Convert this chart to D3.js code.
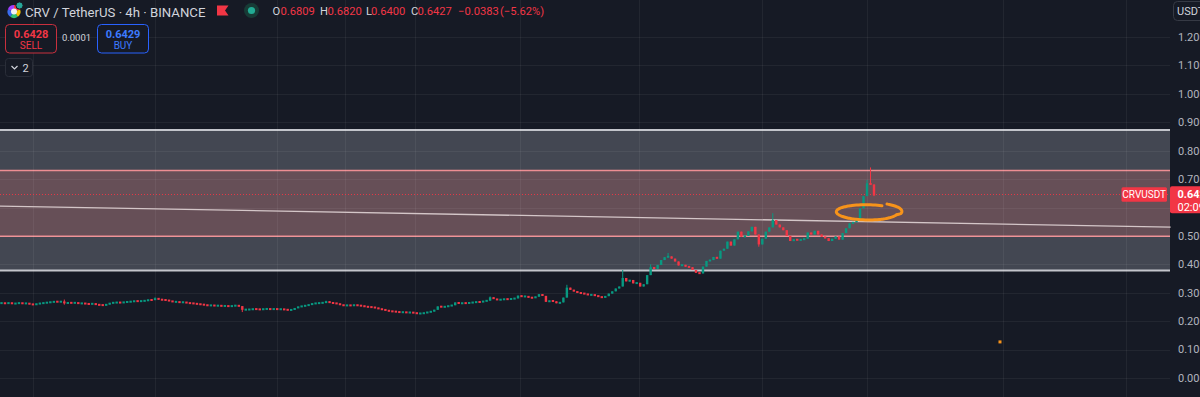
<!DOCTYPE html>
<html><head><meta charset="utf-8">
<script src="https://cdn.jsdelivr.net/npm/d3@7"></script>
<style>html,body{margin:0;padding:0;background:#161a25;overflow:hidden}svg{display:block}</style>
</head><body><svg id="c" width="1200" height="397"></svg>
<script>
// ---------- DATA ----------
const symbolTitle = "CRV / TetherUS · 4h · BINANCE";
const ohlcLabels = ["O","H","L","C"];
const ohlcValues = ["0.6809","0.6820","0.6400","0.6427"];
const changeText = ["−0.0383","(−5.62%)"];
const sellPrice = "0.6428", buyPrice = "0.6429", spreadText = "0.0001";
const priceTicks = [0,0.1,0.2,0.3,0.4,0.5,0.6,0.7,0.8,0.9,1.0,1.1,1.2];
const lastPrice = 0.6427, countdown = "02:09:41", tickerTag = "CRVUSDT", currency = "USDT";
const firstOpen = 0.263;
const closes = [
0.264,0.262,0.265,0.261,0.263,0.264,0.262,0.263,0.260,0.258,
0.261,0.263,0.264,0.266,0.267,0.269,0.268,0.269,0.263,0.265,
0.264,0.265,0.262,0.263,0.261,0.260,0.262,0.258,0.257,0.256,
0.259,0.264,0.265,0.266,0.265,0.267,0.268,0.269,0.271,0.270,
0.271,0.272,0.275,0.274,0.281,0.276,0.275,0.274,0.271,0.268,
0.268,0.266,0.267,0.264,0.263,0.262,0.260,0.259,0.257,0.255,
0.256,0.254,0.255,0.253,0.254,0.252,0.254,0.255,0.253,0.240,
0.241,0.241,0.243,0.242,0.241,0.243,0.243,0.242,0.243,0.242,
0.242,0.241,0.239,0.240,0.246,0.251,0.253,0.255,0.258,0.262,
0.263,0.264,0.265,0.269,0.265,0.263,0.262,0.257,0.255,0.256,
0.255,0.257,0.255,0.254,0.251,0.250,0.249,0.247,0.243,0.241,
0.238,0.235,0.234,0.233,0.231,0.232,0.230,0.231,0.229,0.227,
0.227,0.229,0.232,0.234,0.240,0.252,0.250,0.251,0.254,0.256,
0.266,0.262,0.264,0.263,0.265,0.266,0.268,0.267,0.271,0.272,
0.284,0.278,0.275,0.276,0.278,0.277,0.279,0.280,0.290,0.286,
0.288,0.283,0.282,0.286,0.295,0.289,0.268,0.272,0.270,0.263,
0.266,0.283,0.318,0.310,0.305,0.300,0.298,0.296,0.292,0.293,
0.290,0.286,0.283,0.288,0.297,0.305,0.315,0.322,0.352,0.340,
0.345,0.333,0.335,0.322,0.330,0.362,0.390,0.384,0.398,0.415,
0.425,0.428,0.420,0.410,0.396,0.398,0.392,0.390,0.380,0.370,
0.368,0.392,0.412,0.415,0.426,0.420,0.448,0.455,0.480,0.466,
0.488,0.515,0.497,0.500,0.516,0.532,0.505,0.470,0.490,0.515,
0.530,0.556,0.540,0.530,0.520,0.500,0.482,0.488,0.485,0.487,
0.490,0.512,0.505,0.518,0.505,0.497,0.492,0.482,0.490,0.498,
0.487,0.510,0.527,0.544,0.548,0.556,0.597,0.640,0.685,0.6809,
0.6427];
// notable wicks: [index, high, low]
const wicks = [[18,0.276,0.258],[44,0.284,null],[69,null,0.232],[93,0.272,null],[140,0.287,null],
  [162,0.328,null],[178,0.380,null],[186,0.400,null],[191,0.440,null],[217,null,0.462],
  [221,0.580,null],[248,0.697,null],[249,0.741,null],[250,0.682,0.640]];
// drawings
const outerZone = [0.873, 0.378];
const innerZone = [0.730, 0.499];
const trendLine = [[-0.5, 0.605],[335, 0.531]];
const gridIdx = [9,44,79,98.5,118.5,148.5,182.7,218,248,287,322.2];
const ellipseAnn = {i:248.1, p:0.585, ri:8.9, rp:0.028};
const dotAnn = {i:286.1, p:0.127};

// ---------- SCALES ----------
const svg = d3.select("#c");
const W = 1200, H = 397, paneR = 1170;
const y = d3.scaleLinear().domain([0,1.2]).range([378,37]);
const x = d3.scaleLinear().domain([0,250]).range([1.5,874]);
const UP = "#089981", DN = "#f23645";
const font = "Roboto, 'Noto Sans', sans-serif";

const candles = closes.map((c,i)=>{
  const o = i===0 ? firstOpen : closes[i-1];
  return {i,o,c,h:Math.max(o,c),l:Math.min(o,c)};
});
wicks.forEach(([i,h,l])=>{ if(h!=null) candles[i].h=h; if(l!=null) candles[i].l=l; });

svg.append("rect").attr("width",W).attr("height",H).attr("fill","#161a25");

// zones
const pane = svg.append("g");
pane.append("rect").attr("x",0).attr("width",paneR)
  .attr("y",y(outerZone[0])).attr("height",y(outerZone[1])-y(outerZone[0]))
  .attr("fill","rgba(122,126,138,0.45)");
pane.append("rect").attr("x",0).attr("width",paneR)
  .attr("y",y(innerZone[0])).attr("height",y(innerZone[1])-y(innerZone[0]))
  .attr("fill","rgba(246,114,110,0.2)");

// grid
const grid = svg.append("g").attr("stroke","rgba(255,255,255,0.055)").attr("stroke-width",1);
grid.selectAll("line.h").data(priceTicks).join("line").attr("class","h")
  .attr("x1",0).attr("x2",paneR).attr("y1",d=>Math.round(y(d))+0.5).attr("y2",d=>Math.round(y(d))+0.5);
grid.selectAll("line.v").data(gridIdx).join("line").attr("class","v")
  .attr("y1",0).attr("y2",H).attr("x1",d=>Math.round(x(d))+0.5).attr("x2",d=>Math.round(x(d))+0.5);

// zone borders
outerZone.forEach(p=>pane.append("line").attr("x1",0).attr("x2",paneR).attr("y1",y(p)).attr("y2",y(p))
  .attr("stroke","#c3c5cb").attr("stroke-width",2));
innerZone.forEach(p=>pane.append("line").attr("x1",0).attr("x2",paneR).attr("y1",y(p)).attr("y2",y(p))
  .attr("stroke","#ee8e93").attr("stroke-width",1.5));
// trend line
svg.append("line").attr("x1",x(trendLine[0][0])).attr("y1",y(trendLine[0][1]))
  .attr("x2",x(trendLine[1][0])).attr("y2",y(trendLine[1][1]))
  .attr("stroke","#d4c6c8").attr("stroke-width",1.3);
// last price dotted line
svg.append("line").attr("x1",0).attr("x2",paneR).attr("y1",Math.round(y(lastPrice))-0.5).attr("y2",Math.round(y(lastPrice))-0.5)
  .attr("stroke",DN).attr("stroke-width",1).attr("stroke-dasharray","1,2").attr("opacity",0.9);

// candles
const cg = svg.append("g");
const bw = 2.4;
cg.selectAll("line.w").data(candles).join("line").attr("class","w")
  .attr("x1",d=>x(d.i)).attr("x2",d=>x(d.i)).attr("y1",d=>y(d.h)).attr("y2",d=>y(d.l))
  .attr("stroke",d=>d.c>=d.o?UP:DN).attr("stroke-width",1);
cg.selectAll("rect").data(candles).join("rect")
  .attr("x",d=>x(d.i)-bw/2).attr("width",bw)
  .attr("y",d=>{const t=y(Math.max(d.o,d.c)), b=y(Math.min(d.o,d.c)); return b-t<2 ? (t+b)/2-1 : t;})
  .attr("height",d=>Math.max(2, y(Math.min(d.o,d.c))-y(Math.max(d.o,d.c))))
  .attr("fill",d=>d.c>=d.o?UP:DN);

// hand drawn ellipse
const cx = x(ellipseAnn.i), cy = y(ellipseAnn.p);
const rx = x(ellipseAnn.i+ellipseAnn.ri)-cx, ry = y(ellipseAnn.p-ellipseAnn.rp)-cy;
const pts = d3.range(0,1.0001,1/80).map(t=>{
  const th = (-62 - 355*t)*Math.PI/180;
  const k = 0.86 + 0.3*t;
  return [cx + rx*Math.cos(th)*(t<0.8?1:k), cy + ry*Math.sin(th)*k];
});
svg.append("path").attr("d",d3.line().curve(d3.curveBasis)(pts))
  .attr("fill","none").attr("stroke","#f7931a").attr("stroke-width",3).attr("stroke-linecap","round");
svg.append("rect").attr("x",x(dotAnn.i)-1.5).attr("y",y(dotAnn.p)-1.5).attr("width",3).attr("height",3).attr("fill","#f7931a");

// price axis (labels hidden under the last-price tag are skipped, as in the app)
const ly = y(lastPrice);
const ax = svg.append("g").attr("font-family",font).attr("font-size",11).attr("fill","#b2b5be");
ax.selectAll("text").data(priceTicks.filter(d=>Math.abs(y(d)-(ly+4.5))>18)).join("text")
  .attr("x",1178).attr("y",d=>y(d)).attr("dy","0.35em")
  .text(d=>d3.format(".3f")(d));
// USDT box
svg.append("rect").attr("x",1173.5).attr("y",1.5).attr("width",32).attr("height",19).attr("rx",4)
  .attr("fill","#161a25").attr("stroke","#363a45");
svg.append("text").attr("x",1177).attr("y",15).attr("font-family",font).attr("font-size",11).attr("fill","#d1d4dc").text(currency);
// last price label
svg.append("rect").attr("x",1170).attr("y",ly-9).attr("width",32).attr("height",27).attr("rx",2).attr("fill",DN);
svg.append("text").attr("x",1177.5).attr("y",ly-1).attr("dy","0.35em").attr("font-family",font).attr("font-size",11).attr("font-weight","bold").attr("fill","#fff").text(lastPrice.toFixed(4));
svg.append("text").attr("x",1177.5).attr("y",ly+11.5).attr("dy","0.35em").attr("font-family",font).attr("font-size",11).attr("fill","#fff").text(countdown);
svg.append("rect").attr("x",1121.5).attr("y",ly-8).attr("width",45.5).attr("height",14.5).attr("rx",1.5).attr("fill",DN);
svg.append("text").attr("x",1144.2).attr("y",ly-0.8).attr("dy","0.35em").attr("text-anchor","middle").attr("font-family",font).attr("font-size",10).attr("fill","#fff").text(tickerTag);

// ---------- HEADER ----------
const hd = svg.append("g").attr("font-family",font);
// logo
const logoCols = ["#f23645","#f5c400","#2fbf71","#3a6df0","#a040ff"];
const arc = d3.arc().innerRadius(0).outerRadius(6.5);
const pie = d3.pie().sort(null)(logoCols.map(()=>1));
hd.append("g").attr("transform","translate(14,11.5)").selectAll("path").data(pie).join("path")
  .attr("d",arc).attr("fill",(d,i)=>logoCols[i]);
hd.append("circle").attr("cx",14).attr("cy",11.5).attr("r",3).attr("fill","#f2f2f2");
hd.append("circle").attr("cx",19.5).attr("cy",5.5).attr("r",3.6).attr("fill","#26a69a").attr("stroke","#161a25").attr("stroke-width",1);
hd.append("text").attr("x",25).attr("y",17).attr("font-size",13.2).attr("fill","#d1d4dc").text(symbolTitle);
// flag
hd.append("path").attr("d","M217,5.5 L228.5,5.5 L225,10.5 L228.5,15.5 L217,15.5 Z").attr("fill","#f23645");
// market status dot
hd.append("circle").attr("cx",251.5).attr("cy",10.5).attr("r",7.5).attr("fill","#173b36");
hd.append("circle").attr("cx",251.5).attr("cy",10.5).attr("r",3.6).attr("fill","#22ab94");
// OHLC
const lx = [272.5,320,366,411], vx = [280.5,327.5,371,417.5];
ohlcLabels.forEach((l,i)=>{
  hd.append("text").attr("x",lx[i]).attr("y",15).attr("font-size",11.2).attr("fill","#d1d4dc").text(l);
  hd.append("text").attr("x",vx[i]).attr("y",15).attr("font-size",11.2).attr("fill",DN).text(ohlcValues[i]);
});
hd.append("text").attr("x",458).attr("y",15).attr("font-size",11.2).attr("fill",DN).text(changeText[0]);
hd.append("text").attr("x",500).attr("y",15).attr("font-size",11.2).attr("fill",DN).text(changeText[1]);
// sell / buy
hd.append("rect").attr("x",5.5).attr("y",24.5).attr("width",51).attr("height",28.5).attr("rx",4)
  .attr("fill","#161a25").attr("stroke","#c9303e");
hd.append("text").attr("x",31).attr("y",37.5).attr("text-anchor","middle").attr("font-size",11).attr("font-weight","bold").attr("fill",DN).text(sellPrice);
hd.append("text").attr("x",31).attr("y",49).attr("text-anchor","middle").attr("font-size",10).attr("fill",DN).text("SELL");
hd.append("text").attr("x",76.5).attr("y",40.5).attr("text-anchor","middle").attr("font-size",9.5).attr("fill","#d1d4dc").text(spreadText);
hd.append("rect").attr("x",97.5).attr("y",24.5).attr("width",51).attr("height",28.5).attr("rx",4)
  .attr("fill","#161a25").attr("stroke","#2962ff");
hd.append("text").attr("x",123).attr("y",37.5).attr("text-anchor","middle").attr("font-size",11).attr("font-weight","bold").attr("fill","#3d7bff").text(buyPrice);
hd.append("text").attr("x",123).attr("y",49).attr("text-anchor","middle").attr("font-size",10).attr("fill","#3d7bff").text("BUY");
// collapse indicator box
hd.append("rect").attr("x",5.5).attr("y",58.5).attr("width",27).attr("height",18).attr("rx",3)
  .attr("fill","#161a25").attr("stroke","#2a2e39");
hd.append("path").attr("d","M11.5,66 L14.5,69 L17.5,66").attr("fill","none").attr("stroke","#d1d4dc").attr("stroke-width",1.2);
hd.append("text").attr("x",22.5).attr("y",71.5).attr("font-size",11).attr("fill","#d1d4dc").text("2");
</script></body></html>
